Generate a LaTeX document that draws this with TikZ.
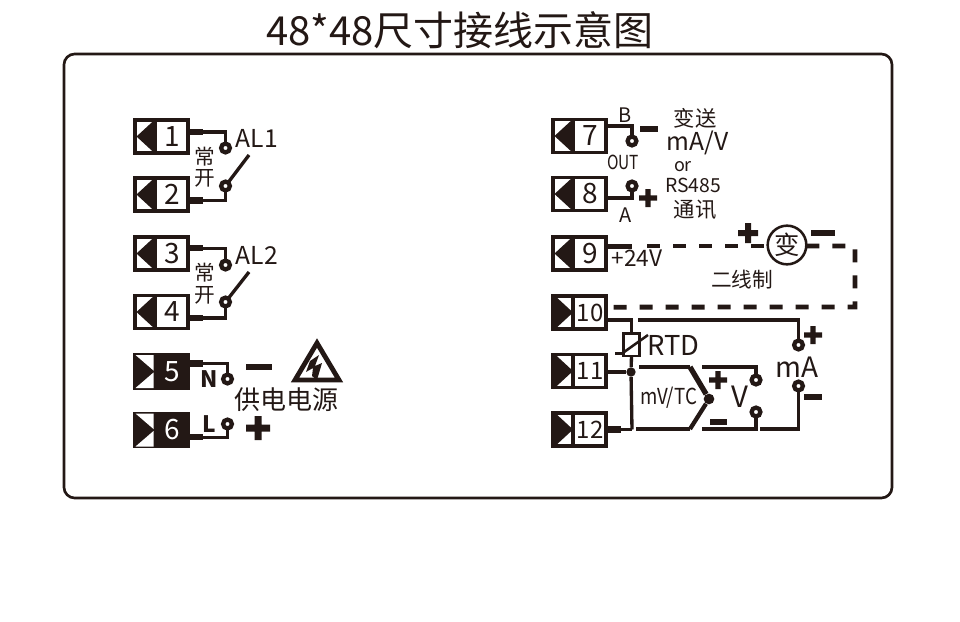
\documentclass[tikz,border=0pt]{standalone}
\usepackage{fontspec}
\setmainfont{Noto Sans CJK SC}
\newcommand{\fsz}[1]{\fontsize{#1}{#1}\selectfont}
\newcommand{\sgnplus}[4]{\fill[ink] (#1-#3,#2-#4) rectangle (#1+#3,#2+#4) (#1-#4,#2-#3) rectangle (#1+#4,#2+#3);}
\newcommand{\sgnminus}[3]{\fill[ink] (#1-#3,#2-2.7) rectangle (#1+#3,#2+2.7);}
\newcommand{\termL}[3]{%
  \node[termbox] (t#1) at (#2,#3) {};
  \draw[ln] (#2-6.5,#3-18) -- (#2-6.5,#3+18);
  \fill[ink] (#2-6.5,#3-17) -- (#2-25,#3) -- (#2-6.5,#3+17) -- cycle;
  \node[numlab] (n#1) at (#2+10.5,#3) {#1};}
\newcommand{\termR}[3]{%
  \node[termbox] (t#1) at (#2,#3) {};
  \draw[ln] (#2-6.5,#3-18) -- (#2-6.5,#3+18);
  \fill[ink] (#2-26,#3-18) -- (#2-6.5,#3) -- (#2-26,#3+18) -- cycle;
  \node[numlab,font=\fsz{18}] (n#1) at (#2+10.5,#3) {#1};}
\newcommand{\termF}[3]{%
  \node[termbox,fill=ink] (t#1) at (#2,#3) {};
  \fill[white] (#2-26,#3-16.5) -- (#2-8,#3-16.5) -- (#2-8,#3-1) -- cycle;
  \fill[white] (#2-26,#3+16.5) -- (#2-8,#3+16.5) -- (#2-8,#3+1) -- cycle;
  \node[numlab,text=white] (n#1) at (#2+10.5,#3) {#1};}
\definecolor{ink}{HTML}{231815}
\tikzset{
  termbox/.style={draw=ink,line width=2.6pt,minimum width=39.5pt,minimum height=25pt,inner sep=0pt,outer sep=0pt},
  numlab/.style={text=ink,font=\fsz{21},inner sep=0pt},
  ln/.style={draw=ink,line width=2.6pt},
  wire/.style={draw=ink,line width=2.5pt},
  stub/.style={draw=ink,line width=4.6pt},
  tc/.style={draw=ink,line width=4pt},
  dash5/.style={draw=ink,line width=3.6pt,dash pattern=on 9.8pt off 9.7pt},
  contact/.style={circle,draw=ink,fill=white,line width=3.2pt,minimum size=6.6pt,inner sep=0pt,outer sep=0pt},
  lab/.style={text=ink,inner sep=0pt},
}
\begin{document}
\begin{tikzpicture}[x=.75pt,y=-.75pt]
\useasboundingbox (0,0) rectangle (960,621);
\fill[white] (0,0) rectangle (960,621);
\node[lab,font=\fsz{30}] (title) at (460,30) {48*48尺寸接线示意图};
\node[draw=ink,line width=2pt,rounded corners=8pt,minimum width=621pt,minimum height=333pt,inner sep=0pt] (frame) at (478,276) {};

% left terminals
\termL{1}{161.5}{136.5}
\termL{2}{161.5}{194.5}
\termL{3}{161.5}{253.5}
\termL{4}{161.5}{312}
\termF{5}{161.5}{371.5}
\termF{6}{161.5}{430}
% right terminals
\termL{7}{579.5}{136}
\termL{8}{579.5}{194}
\termL{9}{579.5}{253.5}
\termR{10}{579.5}{312.5}
\termR{11}{579.5}{371}
\termR{12}{579.5}{429.5}

% AL1
\node[contact] (c1) at (225.5,148) {};
\node[contact] (c2) at (225.5,186) {};
\coordinate (sw1) at (249,155);
\draw[stub] ([yshift=3.5pt]t1.east) -- ++(15,0);
\draw[wire] ([yshift=3.5pt]t1.east) -| (c1);
\draw[stub] ([yshift=-4.5pt]t2.east) -- ++(15,0);
\draw[wire] ([yshift=-4.5pt]t2.east) -| (c2);
\draw[wire] (c2) -- (sw1);
\node[lab,font=\fsz{18.5}] (al1) at (257,138) {AL1};
\node[lab,font=\fsz{15.5}] (ch1) at (204.5,157) {常};
\node[lab,font=\fsz{15.5}] (ka1) at (204.5,178) {开};
% AL2
\node[contact] (c3) at (225.5,265) {};
\node[contact] (c4) at (225.5,302) {};
\coordinate (sw2) at (249,272);
\draw[stub] ([yshift=4pt]t3.east) -- ++(15,0);
\draw[wire] ([yshift=4pt]t3.east) -| (c3);
\draw[stub] ([yshift=-4.5pt]t4.east) -- ++(15,0);
\draw[wire] ([yshift=-4.5pt]t4.east) -| (c4);
\draw[wire] (c4) -- (sw2);
\node[lab,font=\fsz{18.5}] (al2) at (257,255) {AL2};
\node[lab,font=\fsz{15.5}] (ch2) at (204.5,273) {常};
\node[lab,font=\fsz{15.5}] (ka2) at (204.5,295) {开};
% power
\node[contact] (c5) at (227.5,379) {};
\node[contact] (c6) at (227.5,424) {};
\draw[stub] ([yshift=6pt]t5.east) -- ++(15,0);
\draw[wire] ([yshift=6pt]t5.east) -| (c5);
\draw[stub] ([yshift=-5.5pt]t6.east) -- ++(15,0);
\draw[wire] ([yshift=-5.5pt]t6.east) -| (c6);
\node[lab,font=\fsz{17}\bfseries] (nn) at (209.5,379.5) {N};
\node[lab,font=\fsz{17}\bfseries] (ll) at (209.5,424.5) {L};
\sgnminus{259}{367}{13}
\sgnplus{258}{428}{12}{3.5}
\draw[draw=ink,line width=3.6pt,line join=miter] (317,343) -- (295,380) -- (339,380) -- cycle;
\fill[ink] (319,355) -- (310,361) -- (306,372) -- (313,368) -- (312,376) -- (317,380) -- (322,363) -- (315,366) -- cycle;
\node[lab,font=\fsz{19.5}] (pw) at (286,400) {供电电源};

% 7,8
\node[contact] (c7) at (632,141) {};
\node[contact] (c8) at (632,186) {};
\draw[wire] ([yshift=7.5pt]t7.east) -| (c7);
\draw[wire] ([yshift=-3pt]t8.east) -| (c8);
\node[lab,font=\fsz{15}] (bb) at (625.5,115) {B};
\node[lab,font=\fsz{15}] (aa) at (625.5,215) {A};
\node[lab,font=\fsz{14.5}] (out) at (623,162) {\addfontfeature{FakeStretch=.8}OUT};
\sgnminus{649}{129}{9}
\sgnplus{648}{198}{9}{2.7}
\node[lab,font=\fsz{16}] (bs) at (695,118.5) {变送};
\node[lab,font=\fsz{18.5}] (mav) at (697.5,143) {mA/V};
\node[lab,font=\fsz{13.5}] (oor) at (683,167) {or};
\node[lab,font=\fsz{14.5}] (rs) at (693,185.5) {RS485};
\node[lab,font=\fsz{16}] (tx) at (695,210) {通讯};

% two wire
\node[circle,draw=ink,line width=1.9pt,minimum size=29pt,inner sep=0pt,outer sep=0pt,font=\fsz{19}] (bian) at (787,245) {\textcolor{ink}{变}};
\coordinate (d0) at (647,246);
\coordinate (cr1) at (855,246);
\coordinate (cr2) at (855,307);
\draw[stub,line width=3.6pt] ([yshift=5.5pt]t9.east) -- ++(26,0);
\draw[dash5] (d0) -- (bian.west |- d0);
\draw[dash5] (bian.east |- cr1) -- (cr1) -- (cr2) -- ([yshift=4pt]t10.east);
\sgnplus{748}{233}{10}{3}
\sgnminus{823}{233}{12}
\node[lab,font=\fsz{17}] (v24) at (637,258) {+24V};
\node[lab,font=\fsz{15.5}] (ex) at (742,280) {二线制};

% 10-12, RTD
\node[draw=ink,fill=white,line width=2pt,minimum width=12pt,minimum height=17pt,inner sep=0pt,outer sep=0pt] (rtd) at (631.5,344.5) {};
\node[circle,fill=ink,minimum size=7pt,inner sep=0pt] (j11) at (631,372) {};
\draw[wire] ([yshift=-5.6pt]t10.east) -| (rtd.north);
\draw[wire] (rtd.south) -- (j11);
\coordinate (b12) at (632,429.5);
\draw[wire] (j11) -- (b12);
\draw[stub,line width=3.5pt] (t11.east |- j11) -- (j11);
\draw[stub] (t12.east |- b12) -- ++(15,0);
\draw[wire] (t12.east |- b12) -- (b12);
\draw[wire,line width=1.9pt] (615,353.5) -- (622,353.5) -- (648,335);
\node[lab,font=\fsz{20.5}] (rtdl) at (673.5,345) {RTD};
% mA
\node[contact] (c13) at (798.5,345) {};
\node[contact] (c14) at (798.5,386) {};
\coordinate (a1) at (638,320);
\draw[wire] (a1) -| (c13);
\coordinate (a2) at (760,429);
\draw[wire] (a2) -| (c14);
\node[lab,font=\fsz{21}] (ma) at (797,367) {mA};
\sgnplus{813}{335}{9}{2.7}
\sgnminus{813}{397}{9}
% V
\node[contact] (c15) at (756,380) {};
\node[contact] (c16) at (756,412) {};
\coordinate (v1) at (702,367);
\coordinate (v2) at (702,429);
\draw[wire] (v1) -| (c15);
\draw[wire] (v2) -| (c16);
\node[lab,font=\fsz{22}] (vv) at (740,397) {V};
\sgnplus{718}{380}{9}{2.7}
\sgnminus{718}{422}{8.5}
% TC
\node[circle,fill=ink,minimum size=8pt,inner sep=0pt] (tcj) at (709,399) {};
\coordinate (p1) at (639,367);
\coordinate (p2) at (690,367);
\coordinate (p3) at (690,429);
\coordinate (p4) at (636,429);
\draw[wire] (p1) -- (p2);
\draw[tc] (p2) -- (tcj);
\draw[wire,line width=3.2pt] (tcj) -- (p3);
\draw[wire] (p3) -- (p4);
\node[lab,font=\fsz{16.5}] (mvtc) at (668.5,398) {\addfontfeature{FakeStretch=.85}mV/TC};
\end{tikzpicture}
\end{document}
